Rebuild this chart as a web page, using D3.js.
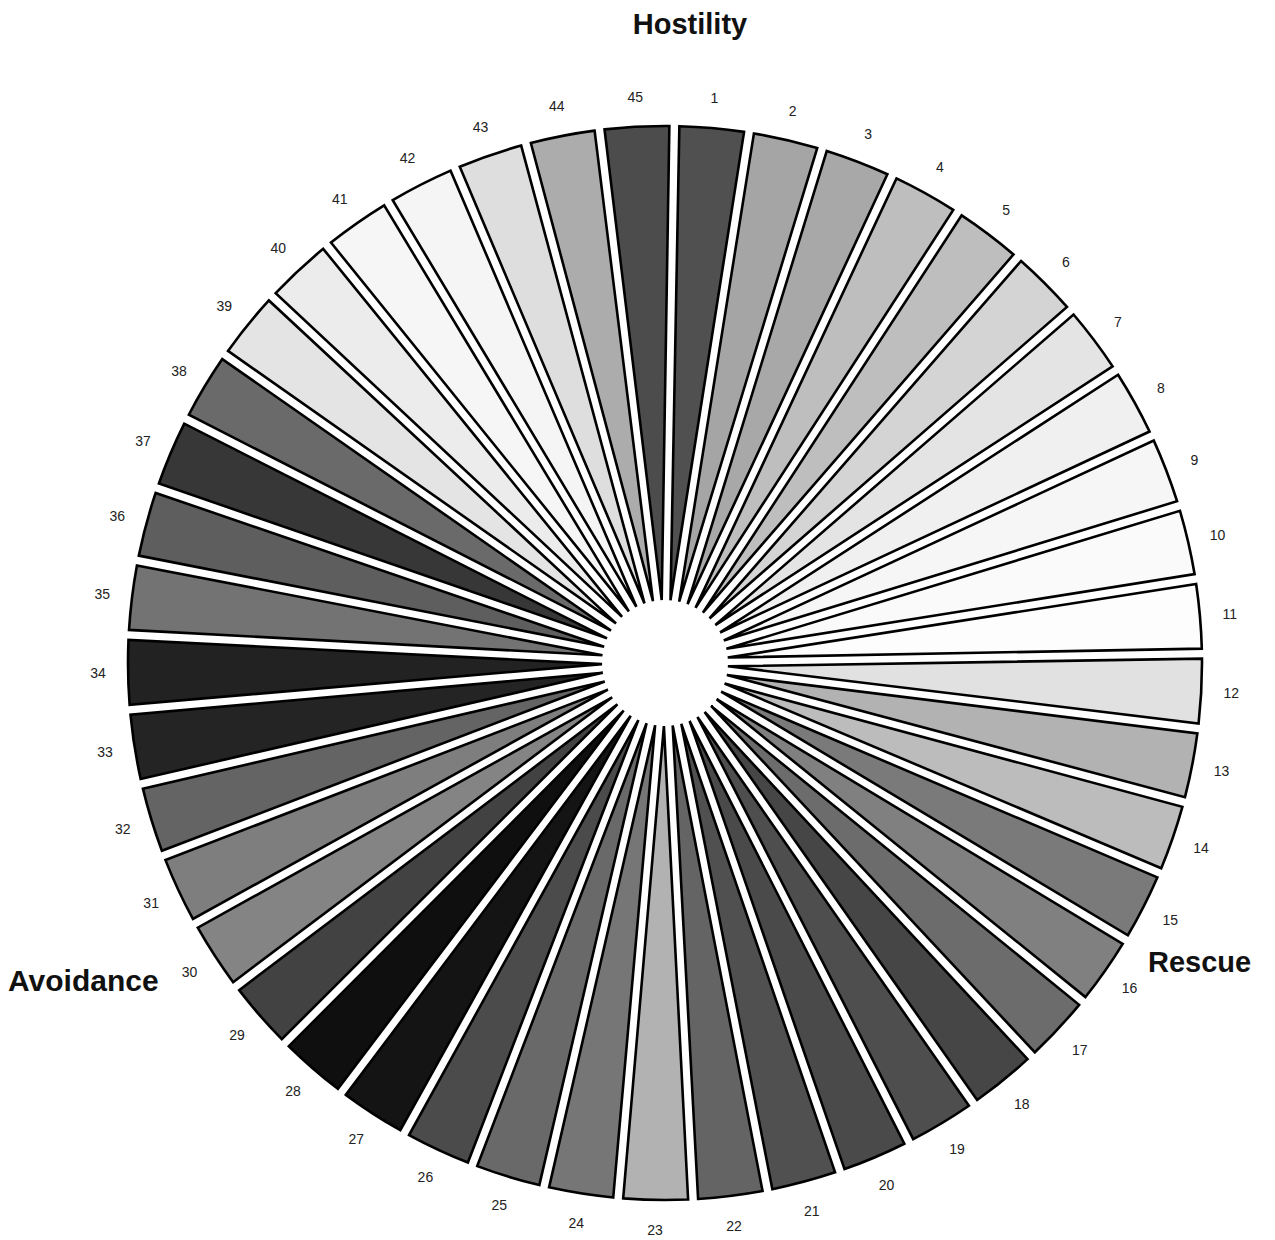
<!DOCTYPE html>
<html>
<head>
<meta charset="utf-8">
<script src="https://cdn.jsdelivr.net/npm/d3@7"></script>
<style>
  html, body { margin: 0; padding: 0; background: #ffffff; }
  svg { display: block; }
</style>
</head>
<body>
<svg id="chart" width="1275" height="1240"></svg>
<script>
// ---- data ----
const categories = d3.range(1, 46).map(String);           // "1" .. "45"
// gray level of each wedge (0 = black, 255 = white)
const shades = [
  80, 165, 168, 190, 190, 212, 228, 240, 246, 250,
  253, 225, 178, 188, 122, 128, 108, 70, 78, 74,
  80, 100, 178, 118, 105, 75, 20, 15, 66, 132,
  126, 100, 36, 34, 115, 94, 55, 106, 228, 236,
  246, 245, 222, 172, 76
];
const titles = ["Hostility", "Rescue", "Avoidance"];

// ---- layout ----
const cx = 665, cy = 663;
const rInner = 63, rOuter = 537, rLabel = 567;
const offsetDeg = 1;

const svg = d3.select("#chart");
const g = svg.append("g").attr("transform", `translate(${cx},${cy})`);

const angle = d3.scaleLinear()
  .domain([0, categories.length])
  .range([offsetDeg * Math.PI / 180, offsetDeg * Math.PI / 180 + 2 * Math.PI]);

const arc = d3.arc()
  .innerRadius(rInner)
  .outerRadius(rOuter)
  .padRadius(540)
  .padAngle(10 / 540);

const data = categories.map((c, i) => ({ label: c, shade: shades[i], i }));

g.selectAll("path.wedge")
  .data(data)
  .join("path")
  .attr("class", "wedge")
  .attr("d", d => arc({ startAngle: angle(d.i), endAngle: angle(d.i + 1) }))
  .attr("fill", d => d3.rgb(d.shade, d.shade, d.shade))
  .attr("stroke", "#000")
  .attr("stroke-width", 2.6)
  .attr("stroke-linejoin", "miter");

g.selectAll("text.num")
  .data(data)
  .join("text")
  .attr("class", "num")
  .attr("x", d => rLabel * Math.sin(angle(d.i + 0.5)))
  .attr("y", d => -rLabel * Math.cos(angle(d.i + 0.5)))
  .attr("text-anchor", "middle")
  .attr("dominant-baseline", "central")
  .attr("font-family", "'Liberation Sans', Arial, sans-serif")
  .attr("font-size", 14)
  .attr("fill", "#222")
  .text(d => d.label);

// ---- titles ----
const titleStyle = sel => sel
  .attr("font-family", "'Liberation Sans', Arial, sans-serif")
  .attr("font-weight", "bold")
  .attr("font-size", 29)
  .attr("fill", "#111");

svg.append("text").attr("x", 690).attr("y", 34).attr("text-anchor", "middle")
  .call(titleStyle).text(titles[0]);
svg.append("text").attr("x", 1148).attr("y", 972).attr("text-anchor", "start")
  .call(titleStyle).text(titles[1]);
svg.append("text").attr("x", 8).attr("y", 991).attr("text-anchor", "start")
  .call(titleStyle).attr("font-size", 30).text(titles[2]);
</script>
</body>
</html>
